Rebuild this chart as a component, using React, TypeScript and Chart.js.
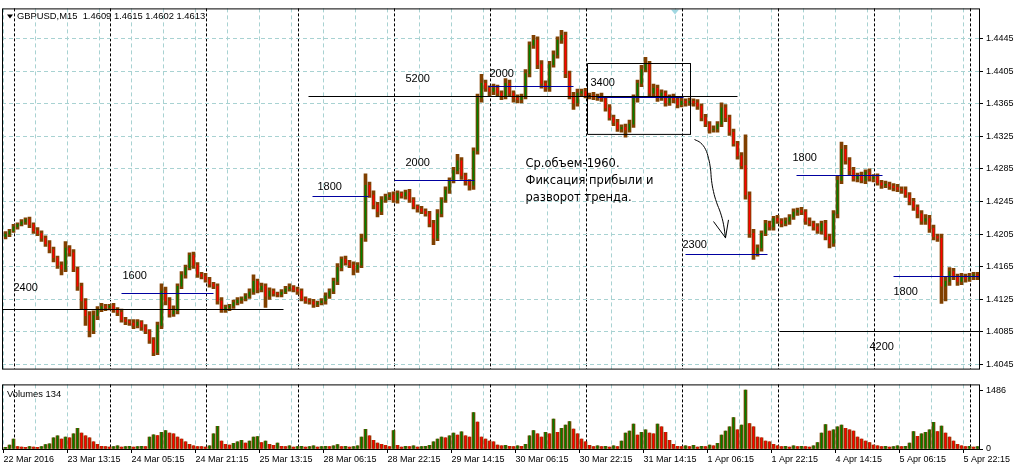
import React, { useEffect, useRef } from 'react';
import { Chart, registerables } from 'chart.js';

Chart.register(...registerables);

// ---------------- axes ----------------
const TIME_LABELS = [
  '22 Mar 2016', '23 Mar 13:15', '24 Mar 05:15', '24 Mar 21:15', '25 Mar 13:15', '28 Mar 06:15',
  '28 Mar 22:15', '29 Mar 14:15', '30 Mar 06:15', '30 Mar 22:15', '31 Mar 14:15', '1 Apr 06:15',
  '1 Apr 22:15', '4 Apr 14:15', '5 Apr 06:15', '5 Apr 22:15',
];
const LABEL_EVERY = 64; // M15 bars between time labels
const GRID_EVERY = 32; // M15 bars between vertical grid lines
const DAY_STARTS = [11, 107, 203, 295, 391, 487, 583, 679, 775, 871, 967]; // M15 bar index of each new day
const PRICE_TICKS = [1.4045, 1.4085, 1.4125, 1.4165, 1.4205, 1.4245, 1.4285, 1.4325, 1.4365, 1.4405, 1.4445];
const VOLUME_TICKS = [0, 1486];
const PRICE_MIN = 1.404;
const PRICE_MAX = 1.4482;
const BAR_MIN = -1.5;
const BAR_MAX = 975.5;
const VOLUME_MAX = 1628;
const BARS_PER_CANDLE = 4; // hourly candles built from M15 bars

// ---------------- price data (pips above 1.4000, hourly) ----------------
const FIRST_OPEN = 202;
const CLOSE_1 = [
  205, 209, 214, 217, 220, 223, 217, 209, 206, 200,
  193, 186, 176, 167, 162, 188, 182, 162, 141, 123,
  105, 87, 105, 113, 116, 115, 117, 112, 109, 100,
  98, 96, 93, 97, 91, 86, 75, 60, 93, 135,
  123, 107, 111, 141, 155, 164, 179, 167,
];
const CLOSE_2 = [
  156, 153, 149, 144, 141, 123, 112, 115, 117, 121,
  124, 126, 129, 134, 147, 137, 141, 129, 135, 132,
  131, 134, 138, 140, 137, 135, 126, 123, 122, 119,
  121, 123, 129, 135, 147, 164, 174, 170, 167, 162,
  167, 200, 265, 253, 241, 233, 247, 251,
];
const CLOSE_3 = [
  253, 247, 255, 252, 256, 247, 239, 236, 233, 230,
  218, 200, 230, 247, 259, 271, 283, 295, 277, 269,
  265, 307, 372, 390, 384, 380, 384, 378, 375, 390,
  378, 372, 370, 374, 402, 437, 443, 413, 390, 384,
  413, 425, 443, 449, 402, 375, 366, 378,
];
const CLOSE_4 = [
  380, 375, 375, 373, 374, 371, 360, 348, 342, 334,
  336, 333, 340, 372, 390, 407, 413, 378, 384, 372,
  378, 366, 372, 370, 364, 368, 366, 368, 366, 362,
  348, 340, 333, 334, 340, 360, 348, 330, 316, 301,
  289, 253, 206, 182, 188, 206, 218, 214,
];
const CLOSE_5 = [
  224, 221, 218, 221, 226, 232, 234, 232, 221, 218,
  214, 209, 218, 202, 194, 230, 271, 309, 295, 283,
  273, 277, 271, 281, 273, 275, 268, 265, 266, 264,
  262, 260, 259, 253, 245, 238, 230, 221, 224, 212,
  202, 200, 141, 147, 159, 153, 147, 153, 150, 153, 155, 153,
];
// upper and lower shadows beyond the body, pips
const UP_1 = [
  3, 2, 3, 2, 3, 2, 3, 2, 4, 3, 3, 4, 3, 2, 4, 8, 3, 4, 3, 4,
  3, 5, 6, 3, 4, 3, 2, 3, 3, 4, 3, 2, 4, 3, 2, 3, 2, 3, 4, 9,
  5, 4, 6, 3, 4, 3, 3, 4,
];
const DN_1 = [
  3, 3, 2, 3, 2, 3, 4, 3, 3, 4, 3, 4, 5, 4, 7, 3, 4, 3, 5, 10,
  12, 8, 4, 5, 3, 4, 3, 3, 4, 3, 4, 3, 4, 3, 4, 3, 4, 4, 3, 4,
  5, 4, 3, 4, 3, 4, 3, 4,
];
const UP_2 = [
  3, 2, 4, 3, 2, 3, 4, 3, 2, 3, 3, 2, 3, 4, 8, 3, 4, 3, 4, 3,
  2, 3, 3, 4, 2, 3, 3, 2, 3, 3, 2, 3, 4, 3, 4, 5, 3, 4, 3, 4,
  3, 5, 14, 4, 5, 3, 4, 3,
];
const DN_2 = [
  4, 3, 3, 4, 3, 4, 3, 3, 4, 3, 3, 4, 3, 3, 3, 4, 3, 14, 4, 3,
  3, 3, 2, 3, 3, 4, 3, 3, 3, 4, 3, 3, 4, 3, 3, 4, 4, 3, 3, 7,
  4, 3, 4, 3, 5, 7, 4, 3,
];
const UP_3 = [
  3, 4, 3, 2, 3, 4, 3, 2, 3, 3, 3, 4, 5, 3, 4, 3, 4, 8, 4, 3,
  3, 4, 5, 11, 4, 3, 5, 4, 3, 6, 4, 3, 4, 3, 5, 4, 6, 4, 5, 3,
  4, 5, 4, 6, 4, 3, 4, 5,
];
const DN_3 = [
  4, 3, 4, 3, 4, 3, 3, 4, 3, 3, 4, 8, 3, 4, 3, 4, 3, 4, 5, 4,
  6, 5, 4, 5, 4, 5, 4, 3, 5, 4, 4, 5, 4, 4, 3, 4, 4, 5, 6, 4,
  4, 3, 4, 4, 5, 4, 8, 4,
];
const UP_4 = [
  3, 4, 3, 4, 3, 4, 3, 4, 3, 4, 3, 4, 5, 4, 4, 5, 9, 4, 5, 4,
  4, 3, 4, 5, 3, 4, 3, 4, 3, 4, 3, 4, 3, 4, 3, 6, 4, 3, 4, 3,
  4, 38, 4, 5, 4, 3, 4, 3,
];
const DN_4 = [
  4, 3, 4, 3, 4, 3, 4, 3, 4, 3, 4, 9, 3, 4, 5, 4, 3, 5, 4, 4,
  3, 4, 3, 4, 4, 3, 4, 3, 4, 4, 4, 3, 4, 3, 4, 3, 5, 4, 3, 4,
  4, 5, 5, 8, 4, 4, 3, 4,
];
const UP_5 = [
  3, 4, 3, 4, 3, 4, 3, 4, 3, 4, 3, 4, 3, 4, 3, 4, 5, 9, 5, 4,
  4, 3, 4, 3, 4, 3, 4, 3, 4, 3, 3, 4, 3, 4, 3, 4, 3, 4, 5, 4,
  4, 3, 5, 6, 5, 4, 3, 4, 3, 4, 3, 3,
];
const DN_5 = [
  4, 3, 4, 3, 4, 3, 4, 3, 4, 3, 4, 3, 4, 4, 6, 4, 5, 4, 4, 5,
  3, 4, 3, 4, 3, 4, 3, 4, 3, 4, 4, 3, 4, 3, 4, 4, 5, 4, 4, 5,
  4, 4, 21, 18, 5, 4, 5, 4, 4, 3, 4, 4,
];

// ---------------- tick volumes (hourly) ----------------
const VOL_1 = [
  40, 100, 250, 60, 50, 45, 60, 50, 40, 60, 110, 130, 280, 330, 250, 300, 280, 380, 520, 400,
  330, 280, 180, 120, 70, 60, 50, 60, 80, 50, 60, 70, 50, 60, 70, 60, 300, 360, 340, 420,
  465, 400, 380, 300, 250, 180, 120, 80,
];
const VOL_2 = [
  60, 60, 50, 80, 380, 570, 200, 120, 100, 140, 180, 220, 150, 200, 300, 310, 160, 200, 120, 90,
  150, 70, 60, 80, 50, 60, 70, 50, 60, 80, 50, 60, 70, 60, 80, 110, 60, 70, 50, 60,
  80, 300, 495, 330, 220, 150, 120, 90,
];
const VOL_3 = [
  60, 465, 90, 50, 70, 60, 80, 50, 60, 70, 90, 180, 250, 300, 280, 330, 400, 350, 430, 330,
  300, 915, 680, 300, 250, 200, 180, 100, 80, 90, 70, 60, 80, 70, 120, 330, 465, 380, 300, 420,
  380, 757, 420, 520, 600, 690, 500, 380,
];
const VOL_4 = [
  250, 180, 90, 60, 80, 60, 70, 50, 80, 60, 200, 400, 450, 630, 350, 420, 480, 400, 380, 630,
  560, 420, 220, 120, 70, 60, 80, 60, 90, 50, 70, 60, 100, 80, 140, 350, 450, 560, 790, 480,
  600, 1486, 640, 560, 300, 280, 200, 180,
];
const VOL_5 = [
  120, 80, 60, 70, 50, 80, 60, 70, 60, 50, 80, 160, 400, 615, 450, 480, 560, 600, 520, 480,
  450, 300, 250, 200, 160, 100, 80, 60, 70, 50, 60, 80, 60, 70, 150, 440, 320, 380, 420, 480,
  675, 440, 580, 400, 300, 200, 120, 80, 60, 70, 50, 60,
];

// ---------------- drawn objects (pips, M15 bar index) ----------------
const BLACK_LEVELS = [[112, -1.5, 280], [374, 305, 734], [85, 776, 976]];
const BLUE_LEVELS = [
  [132, 118, 210], [251, 309, 365], [271, 391, 471], [386, 485, 570],
  [373, 594, 680], [277, 793, 879], [180, 682, 764], [153, 890, 976],
];
const LEVEL_LABELS: [string, number, number][] = [
  ['2400', 10, 139], ['1600', 119, 154], ['1800', 314, 263], ['2000', 402, 292],
  ['5200', 402, 396], ['2000', 486, 402], ['3400', 587, 391], ['1800', 789, 298],
  ['2300', 679, 192], ['1800', 890, 134], ['4200', 866, 66],
];
const NOTE_LINES = ['Ср.объем-1960.', 'Фиксация прибыли и', 'разворот тренда.'];
const NOTE_BAR = 522;
const NOTE_PIPS = [291, 270, 249];
const BOX = { from: 584, to: 687, low: 328, high: 415 };
const ARROW_PATH = [[691, 321], [697, 317], [702, 309], [705, 298], [707, 285], [708, 271], [710, 257], [713, 244], [717, 231], [720, 217], [722, 200]];
const ARROW_HEAD = [[710, 220], [722, 200], [725, 222]];
const HEADER = 'GBPUSD,M15  1.4609 1.4615 1.4602 1.4613';
const VOLUME_TITLE = 'Volumes 134';

// ---------------- styles ----------------
const GREEN = 'rgb(0,128,0)';
const RED = 'rgb(255,0,0)';
const BROWN = 'rgb(128,64,0)';
const NAVY = 'rgb(0,0,160)';
const CYAN = 'rgb(168,210,210)';
const SMALL_FONT = { family: 'Liberation Sans', size: 9 };

const toPrice = (p: number) => 1.4 + p / 10000;

const CLOSES = [...CLOSE_1, ...CLOSE_2, ...CLOSE_3, ...CLOSE_4, ...CLOSE_5];
const UPS = [...UP_1, ...UP_2, ...UP_3, ...UP_4, ...UP_5];
const DNS = [...DN_1, ...DN_2, ...DN_3, ...DN_4, ...DN_5];
const VOLS = [...VOL_1, ...VOL_2, ...VOL_3, ...VOL_4, ...VOL_5];

// bar index of the middle of each hourly candle
const barOf = (i: number) => i * BARS_PER_CANDLE + BARS_PER_CANDLE / 2;

function buildCandles() {
  const bodies: any[] = [];
  const shadows: any[] = [];
  const colors: string[] = [];
  let open = FIRST_OPEN;
  CLOSES.forEach((c, i) => {
    const x = barOf(i);
    const hi = Math.max(open, c) + UPS[i];
    const lo = Math.min(open, c) - DNS[i];
    bodies.push({ x, y: [toPrice(open), toPrice(c)] });
    shadows.push({ x, y: [toPrice(lo), toPrice(hi)] });
    colors.push(c > open ? GREEN : c < open ? RED : '#000');
    open = c;
  });
  return { bodies, shadows, colors };
}

function buildVolumes() {
  const pts = VOLS.map((v, i) => ({ x: barOf(i), y: v }));
  const colors = VOLS.map((v, i) => (i === 0 || v > VOLS[i - 1] ? GREEN : RED));
  return { pts, colors };
}

const lineDs = (pts: number[][], color: string, extra: any = {}) => ({
  type: 'line',
  data: pts.map(([i, p]) => ({ x: i, y: toPrice(p) })),
  borderColor: color,
  backgroundColor: color,
  borderWidth: 1,
  pointRadius: 0,
  fill: false,
  tension: 0,
  ...extra,
});

const isDay = (c: any) => !!c.tick && DAY_STARTS.includes(c.tick.value);

const xTicks = (scale: any) => {
  const vals: number[] = [];
  for (let v = 0; v <= BAR_MAX; v += GRID_EVERY) vals.push(v);
  DAY_STARTS.forEach((d) => vals.push(d));
  vals.sort((a, b) => a - b);
  scale.ticks = vals.map((value) => ({ value }));
};

const frameOf = (chart: any) => {
  const { ctx, chartArea: a } = chart;
  ctx.save();
  ctx.strokeStyle = '#000';
  ctx.lineWidth = 1;
  ctx.strokeRect(a.left + 0.5, a.top + 0.5, a.right - a.left, a.bottom - a.top);
  ctx.restore();
};

// snap thin 1px line objects onto the pixel grid so they render crisp
const crispLines = {
  id: 'crispLines',
  beforeDatasetDraw(chart: any, args: any) {
    const meta = args.meta;
    if (meta.type !== 'line' || !meta.data.length) return;
    const y0 = meta.data[0].y;
    const dy = Math.floor(y0) + 0.5 - y0;
    chart.ctx.save();
    chart.ctx.translate(0, dy);
  },
  afterDatasetDraw(chart: any, args: any) {
    if (args.meta.type !== 'line' || !args.meta.data.length) return;
    chart.ctx.restore();
  },
};

const priceOverlay = {
  id: 'priceOverlay',
  afterDatasetsDraw(chart: any) {
    const { ctx, chartArea: a, scales } = chart;
    const x = scales.x;
    const y = scales.y;
    ctx.save();
    ctx.fillStyle = '#000';
    ctx.textBaseline = 'middle';
    ctx.textAlign = 'left';
    ctx.font = '11px "Liberation Sans"';
    LEVEL_LABELS.forEach(([t, i, p]) => ctx.fillText(t, x.getPixelForValue(i), y.getPixelForValue(toPrice(p))));
    ctx.font = '11.5px "DejaVu Sans"';
    NOTE_LINES.forEach((t, k) => ctx.fillText(t, x.getPixelForValue(NOTE_BAR), y.getPixelForValue(toPrice(NOTE_PIPS[k]))));
    // header marker + text
    ctx.beginPath();
    ctx.moveTo(a.left + 5, a.top + 6);
    ctx.lineTo(a.left + 11, a.top + 6);
    ctx.lineTo(a.left + 8, a.top + 10);
    ctx.closePath();
    ctx.fill();
    ctx.font = '9.4px "Liberation Sans"';
    ctx.fillText(HEADER, a.left + 15, a.top + 8);
    // chart shift marker
    ctx.fillStyle = 'rgb(160,215,225)';
    ctx.beginPath();
    ctx.moveTo(a.left + 669, a.top + 1);
    ctx.lineTo(a.left + 677, a.top + 1);
    ctx.lineTo(a.left + 673, a.top + 6);
    ctx.closePath();
    ctx.fill();
    ctx.restore();
  },
  afterDraw(chart: any) {
    frameOf(chart);
  },
};

const volumeOverlay = {
  id: 'volumeOverlay',
  afterDatasetsDraw(chart: any) {
    const { ctx, chartArea: a } = chart;
    ctx.save();
    ctx.fillStyle = '#000';
    ctx.textBaseline = 'middle';
    ctx.font = '9.4px "Liberation Sans"';
    ctx.fillText(VOLUME_TITLE, a.left + 5, a.top + 10);
    ctx.restore();
  },
  afterDraw(chart: any) {
    frameOf(chart);
  },
};

export default function App() {
  const priceRef = useRef<HTMLCanvasElement>(null);
  const volRef = useRef<HTMLCanvasElement>(null);

  useEffect(() => {
    Chart.defaults.font.family = 'Liberation Sans';
    const { bodies, shadows, colors } = buildCandles();
    const vol = buildVolumes();

    const xCommon = {
      type: 'linear',
      min: BAR_MIN,
      max: BAR_MAX,
      offset: false,
      afterBuildTicks: xTicks,
      border: { display: false, dash: (c: any) => (isDay(c) ? [3, 2] : [4, 3]) },
    };

    const priceChart = new Chart(priceRef.current as HTMLCanvasElement, {
      type: 'bar',
      data: {
        datasets: [
          ...BLACK_LEVELS.map(([p, a, b]) => lineDs([[a, p], [b, p]], '#000')),
          ...BLUE_LEVELS.map(([p, a, b]) => lineDs([[a, p], [b, p]], NAVY)),
          lineDs(
            [[BOX.from, BOX.high], [BOX.to, BOX.high], [BOX.to, BOX.low], [BOX.from, BOX.low], [BOX.from, BOX.high]],
            '#000'
          ),
          lineDs(ARROW_PATH, '#000', { tension: 0.4 }),
          lineDs(ARROW_HEAD, '#000'),
          {
            type: 'bar',
            data: bodies,
            backgroundColor: colors,
            barThickness: 1,
            grouped: false,
          },
          {
            type: 'bar',
            data: shadows,
            backgroundColor: BROWN,
            barThickness: 3,
            grouped: false,
          },
        ] as any,
      },
      options: {
        responsive: false,
        animation: false,
        events: [],
        layout: { padding: { left: 2, top: 2, right: 0, bottom: 2 } },
        plugins: { legend: { display: false }, tooltip: { enabled: false } },
        scales: {
          x: {
            ...xCommon,
            grid: {
              offset: false,
              color: (c: any) => (isDay(c) ? '#000' : CYAN),
              drawTicks: false,
            },
            ticks: { display: false },
            afterFit: (s: any) => {
              s.height = 0;
            },
          },
          y: {
            type: 'linear',
            position: 'right',
            min: PRICE_MIN,
            max: PRICE_MAX,
            grid: { color: CYAN, tickColor: '#000', tickLength: 4 },
            border: { display: false, dash: [4, 3] },
            ticks: {
              color: '#000',
              font: SMALL_FONT,
              padding: 3,
              autoSkip: false,
              callback: (v: any) => Number(v).toFixed(4),
            },
            afterBuildTicks: (s: any) => {
              s.ticks = PRICE_TICKS.map((value) => ({ value }));
            },
            afterFit: (s: any) => {
              s.width = 39;
            },
          },
        } as any,
      },
      plugins: [crispLines, priceOverlay],
    });

    const volumeChart = new Chart(volRef.current as HTMLCanvasElement, {
      type: 'bar',
      data: {
        datasets: [
          {
            data: vol.pts,
            backgroundColor: vol.colors,
            barThickness: 1,
            grouped: false,
          },
          {
            data: vol.pts,
            backgroundColor: BROWN,
            barThickness: 3,
            grouped: false,
          },
        ] as any,
      },
      options: {
        responsive: false,
        animation: false,
        events: [],
        layout: { padding: { left: 2, top: 1, right: 0, bottom: 0 } },
        plugins: { legend: { display: false }, tooltip: { enabled: false } },
        scales: {
          x: {
            ...xCommon,
            grid: {
              offset: false,
              color: (c: any) => (isDay(c) ? '#000' : CYAN),
              tickColor: (c: any) => (c.tick && c.tick.value % LABEL_EVERY === 0 ? '#000' : 'rgba(0,0,0,0)'),
              tickLength: 4,
            },
            ticks: {
              display: true,
              autoSkip: false,
              maxRotation: 0,
              minRotation: 0,
              align: 'start',
              padding: 1,
              color: '#000',
              font: SMALL_FONT,
              callback: (v: any) => (v % LABEL_EVERY === 0 ? TIME_LABELS[v / LABEL_EVERY] : ''),
            },
            afterFit: (s: any) => {
              s.height = 21;
            },
          },
          y: {
            type: 'linear',
            position: 'right',
            min: 0,
            max: VOLUME_MAX,
            grid: { drawOnChartArea: false, tickColor: '#000', tickLength: 4 },
            border: { display: false },
            ticks: {
              color: '#000',
              font: SMALL_FONT,
              padding: 3,
              autoSkip: false,
              callback: (v: any) => String(v),
            },
            afterBuildTicks: (s: any) => {
              s.ticks = VOLUME_TICKS.map((value) => ({ value }));
            },
            afterFit: (s: any) => {
              s.width = 39;
            },
          },
        } as any,
      },
      plugins: [volumeOverlay],
    });

    return () => {
      priceChart.destroy();
      volumeChart.destroy();
    };
  }, []);

  return (
    <div style={{ position: 'absolute', left: 0, top: 0, width: 1018, height: 470, background: '#fff' }}>
      <canvas ref={priceRef} width={1018} height={377} style={{ position: 'absolute', left: 0, top: 0 }} />
      <canvas ref={volRef} width={1018} height={94} style={{ position: 'absolute', left: 0, top: 376 }} />
    </div>
  );
}
